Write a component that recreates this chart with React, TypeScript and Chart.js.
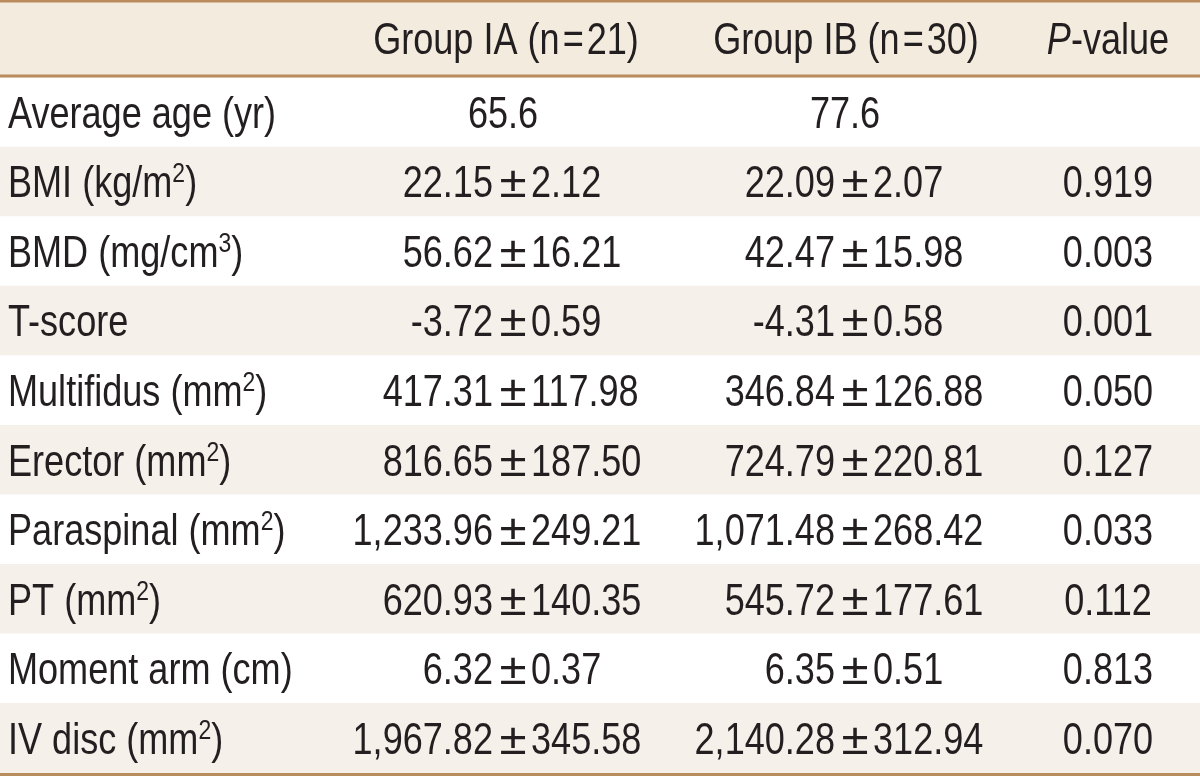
import { useEffect, useRef } from "react";
import { Chart, registerables } from "chart.js";

Chart.register(...registerables);

// ---- table data ----
const headerLabels = ["", "Group IA (n\u200A=\u200A21)", "Group IB (n\u200A=\u200A30)", "P-value"];
const rowLabels = [
  "Average age (yr)",
  "BMI (kg/m^2)",
  "BMD (mg/cm^3)",
  "T-score",
  "Multifidus (mm^2)",
  "Erector (mm^2)",
  "Paraspinal (mm^2)",
  "PT (mm^2)",
  "Moment arm (cm)",
  "IV disc (mm^2)",
];
const groupIAMean = ["65.6", "22.15", "56.62", "-3.72", "417.31", "816.65", "1,233.96", "620.93", "6.32", "1,967.82"];
const groupIASD = ["", "2.12", "16.21", "0.59", "117.98", "187.50", "249.21", "140.35", "0.37", "345.58"];
const groupIBMean = ["77.6", "22.09", "42.47", "-4.31", "346.84", "724.79", "1,071.48", "545.72", "6.35", "2,140.28"];
const groupIBSD = ["", "2.07", "15.98", "0.58", "126.88", "220.81", "268.42", "177.61", "0.51", "312.94"];
const pValues = ["", "0.919", "0.003", "0.001", "0.050", "0.127", "0.033", "0.112", "0.813", "0.070"];

// ---- styling ----
const FONT = '"Liberation Sans", Arial, sans-serif';
const SIZE = 44;
const SUP_SIZE = 28;
const SX = 0.82;
const INK = "#231f20";
const HEADER_BG = "#f3ebdd";
const STRIPE_BG = "#f5f0ea";
const RULE = "#b98c5e";
const BASE_OFF = 15.5;

type Seg = { t: string; sup?: boolean; italic?: boolean };

function parseLabel(s: string): Seg[] {
  const out: Seg[] = [];
  const parts = s.split(/\^(\d)/);
  parts.forEach((p, i) => {
    if (!p) return;
    out.push(i % 2 === 1 ? { t: p, sup: true } : { t: p });
  });
  return out;
}

function fontFor(seg: Seg) {
  return `${seg.italic ? "italic " : ""}${seg.sup ? SUP_SIZE : SIZE}px ${FONT}`;
}

function segsWidth(ctx: CanvasRenderingContext2D, segs: Seg[]) {
  let w = 0;
  for (const s of segs) {
    ctx.font = fontFor(s);
    w += ctx.measureText(s.t).width * SX;
  }
  return w;
}

function drawSegs(
  ctx: CanvasRenderingContext2D,
  segs: Seg[],
  x: number,
  baseline: number,
  align: "left" | "center" | "right"
) {
  const w = segsWidth(ctx, segs);
  let cx = align === "left" ? x : align === "center" ? x - w / 2 : x - w;
  for (const s of segs) {
    ctx.font = fontFor(s);
    const sw = ctx.measureText(s.t).width * SX;
    ctx.save();
    ctx.translate(cx, s.sup ? baseline - 15 : baseline);
    ctx.scale(SX, 1);
    ctx.textAlign = "left";
    ctx.textBaseline = "alphabetic";
    ctx.fillStyle = INK;
    ctx.fillText(s.t, 0, 0);
    ctx.restore();
    cx += sw;
  }
}

function drawPM(ctx: CanvasRenderingContext2D, mean: string, sd: string, center: number, baseline: number) {
  if (!sd) {
    drawSegs(ctx, [{ t: mean }], center - 10, baseline, "center");
    return;
  }
  drawSegs(ctx, [{ t: mean }], center - 20, baseline, "right");
  ctx.save();
  ctx.font = `${SIZE}px ${FONT}`;
  ctx.translate(center, baseline);
  ctx.scale(1.12, 1);
  ctx.textAlign = "center";
  ctx.textBaseline = "alphabetic";
  ctx.fillStyle = INK;
  ctx.fillText("\u00B1", 0, 0);
  ctx.restore();
  drawSegs(ctx, [{ t: sd }], center + 18, baseline, "left");
}

const tablePlugin = {
  id: "tableText",
  afterDraw(chart: any) {
    const ctx: CanvasRenderingContext2D = chart.ctx;
    const xs = chart.scales.x;
    const ys = chart.scales.y;
    const cols = chart.options.plugins.tableText;
    const W = chart.width;
    const top = chart.chartArea.top;
    const bottom = chart.chartArea.bottom;

    ctx.save();
    // header band & rules
    ctx.fillStyle = HEADER_BG;
    ctx.fillRect(0, 0, W, top);
    ctx.fillStyle = RULE;
    ctx.fillRect(0, 0, W, 2.5);
    ctx.fillRect(0, top - 3, W, 3);
    ctx.fillRect(0, bottom, W, chart.height - bottom);

    const headBase = (top - 3 + 2.5) / 2 + BASE_OFF;
    drawSegs(ctx, [{ t: headerLabels[1] }], xs.getPixelForValue(cols.ia), headBase, "center");
    drawSegs(ctx, [{ t: headerLabels[2] }], xs.getPixelForValue(cols.ib), headBase, "center");
    drawSegs(
      ctx,
      [{ t: headerLabels[3].slice(0, 1), italic: true }, { t: headerLabels[3].slice(1) }],
      xs.getPixelForValue(cols.p),
      headBase,
      "center"
    );

    rowLabels.forEach((label, i) => {
      const base = ys.getPixelForValue(i) + BASE_OFF;
      drawSegs(ctx, parseLabel(label), xs.getPixelForValue(cols.label), base, "left");
      drawPM(ctx, groupIAMean[i], groupIASD[i], xs.getPixelForValue(cols.iaPM), base);
      drawPM(ctx, groupIBMean[i], groupIBSD[i], xs.getPixelForValue(cols.ibPM), base);
      if (pValues[i]) drawSegs(ctx, [{ t: pValues[i] }], xs.getPixelForValue(cols.p), base, "center");
    });
    ctx.restore();
  },
};

export default function App() {
  const ref = useRef<HTMLCanvasElement | null>(null);

  useEffect(() => {
    document.body.style.margin = "0";
    if (!ref.current) return;
    const chart = new Chart(ref.current, {
      type: "bar",
      data: {
        labels: rowLabels,
        datasets: [
          {
            label: "rows",
            data: rowLabels.map(() => [0, 1200]) as any,
            backgroundColor: rowLabels.map((_, i) => (i % 2 === 1 ? STRIPE_BG : "#ffffff")),
            borderWidth: 0,
            borderSkipped: false,
            categoryPercentage: 1,
            barPercentage: 1,
          },
        ],
      },
      options: {
        responsive: false,
        animation: false,
        indexAxis: "y",
        layout: { padding: { top: 77.5, bottom: 3, left: 0, right: 0 } },
        events: [],
        plugins: {
          legend: { display: false },
          tooltip: { enabled: false },
          title: { display: false },
          tableText: { label: 8, ia: 506, ib: 846, iaPM: 513, ibPM: 855, p: 1108 },
        } as any,
        scales: {
          x: { type: "linear", min: 0, max: 1200, display: false },
          y: { type: "category", display: false, offset: true },
        },
      },
      plugins: [tablePlugin],
    });
    return () => chart.destroy();
  }, []);

  return (
    <div style={{ position: "absolute", left: 0, top: 0, width: 1200, height: 776 }}>
      <canvas ref={ref} width={1200} height={776} />
    </div>
  );
}
